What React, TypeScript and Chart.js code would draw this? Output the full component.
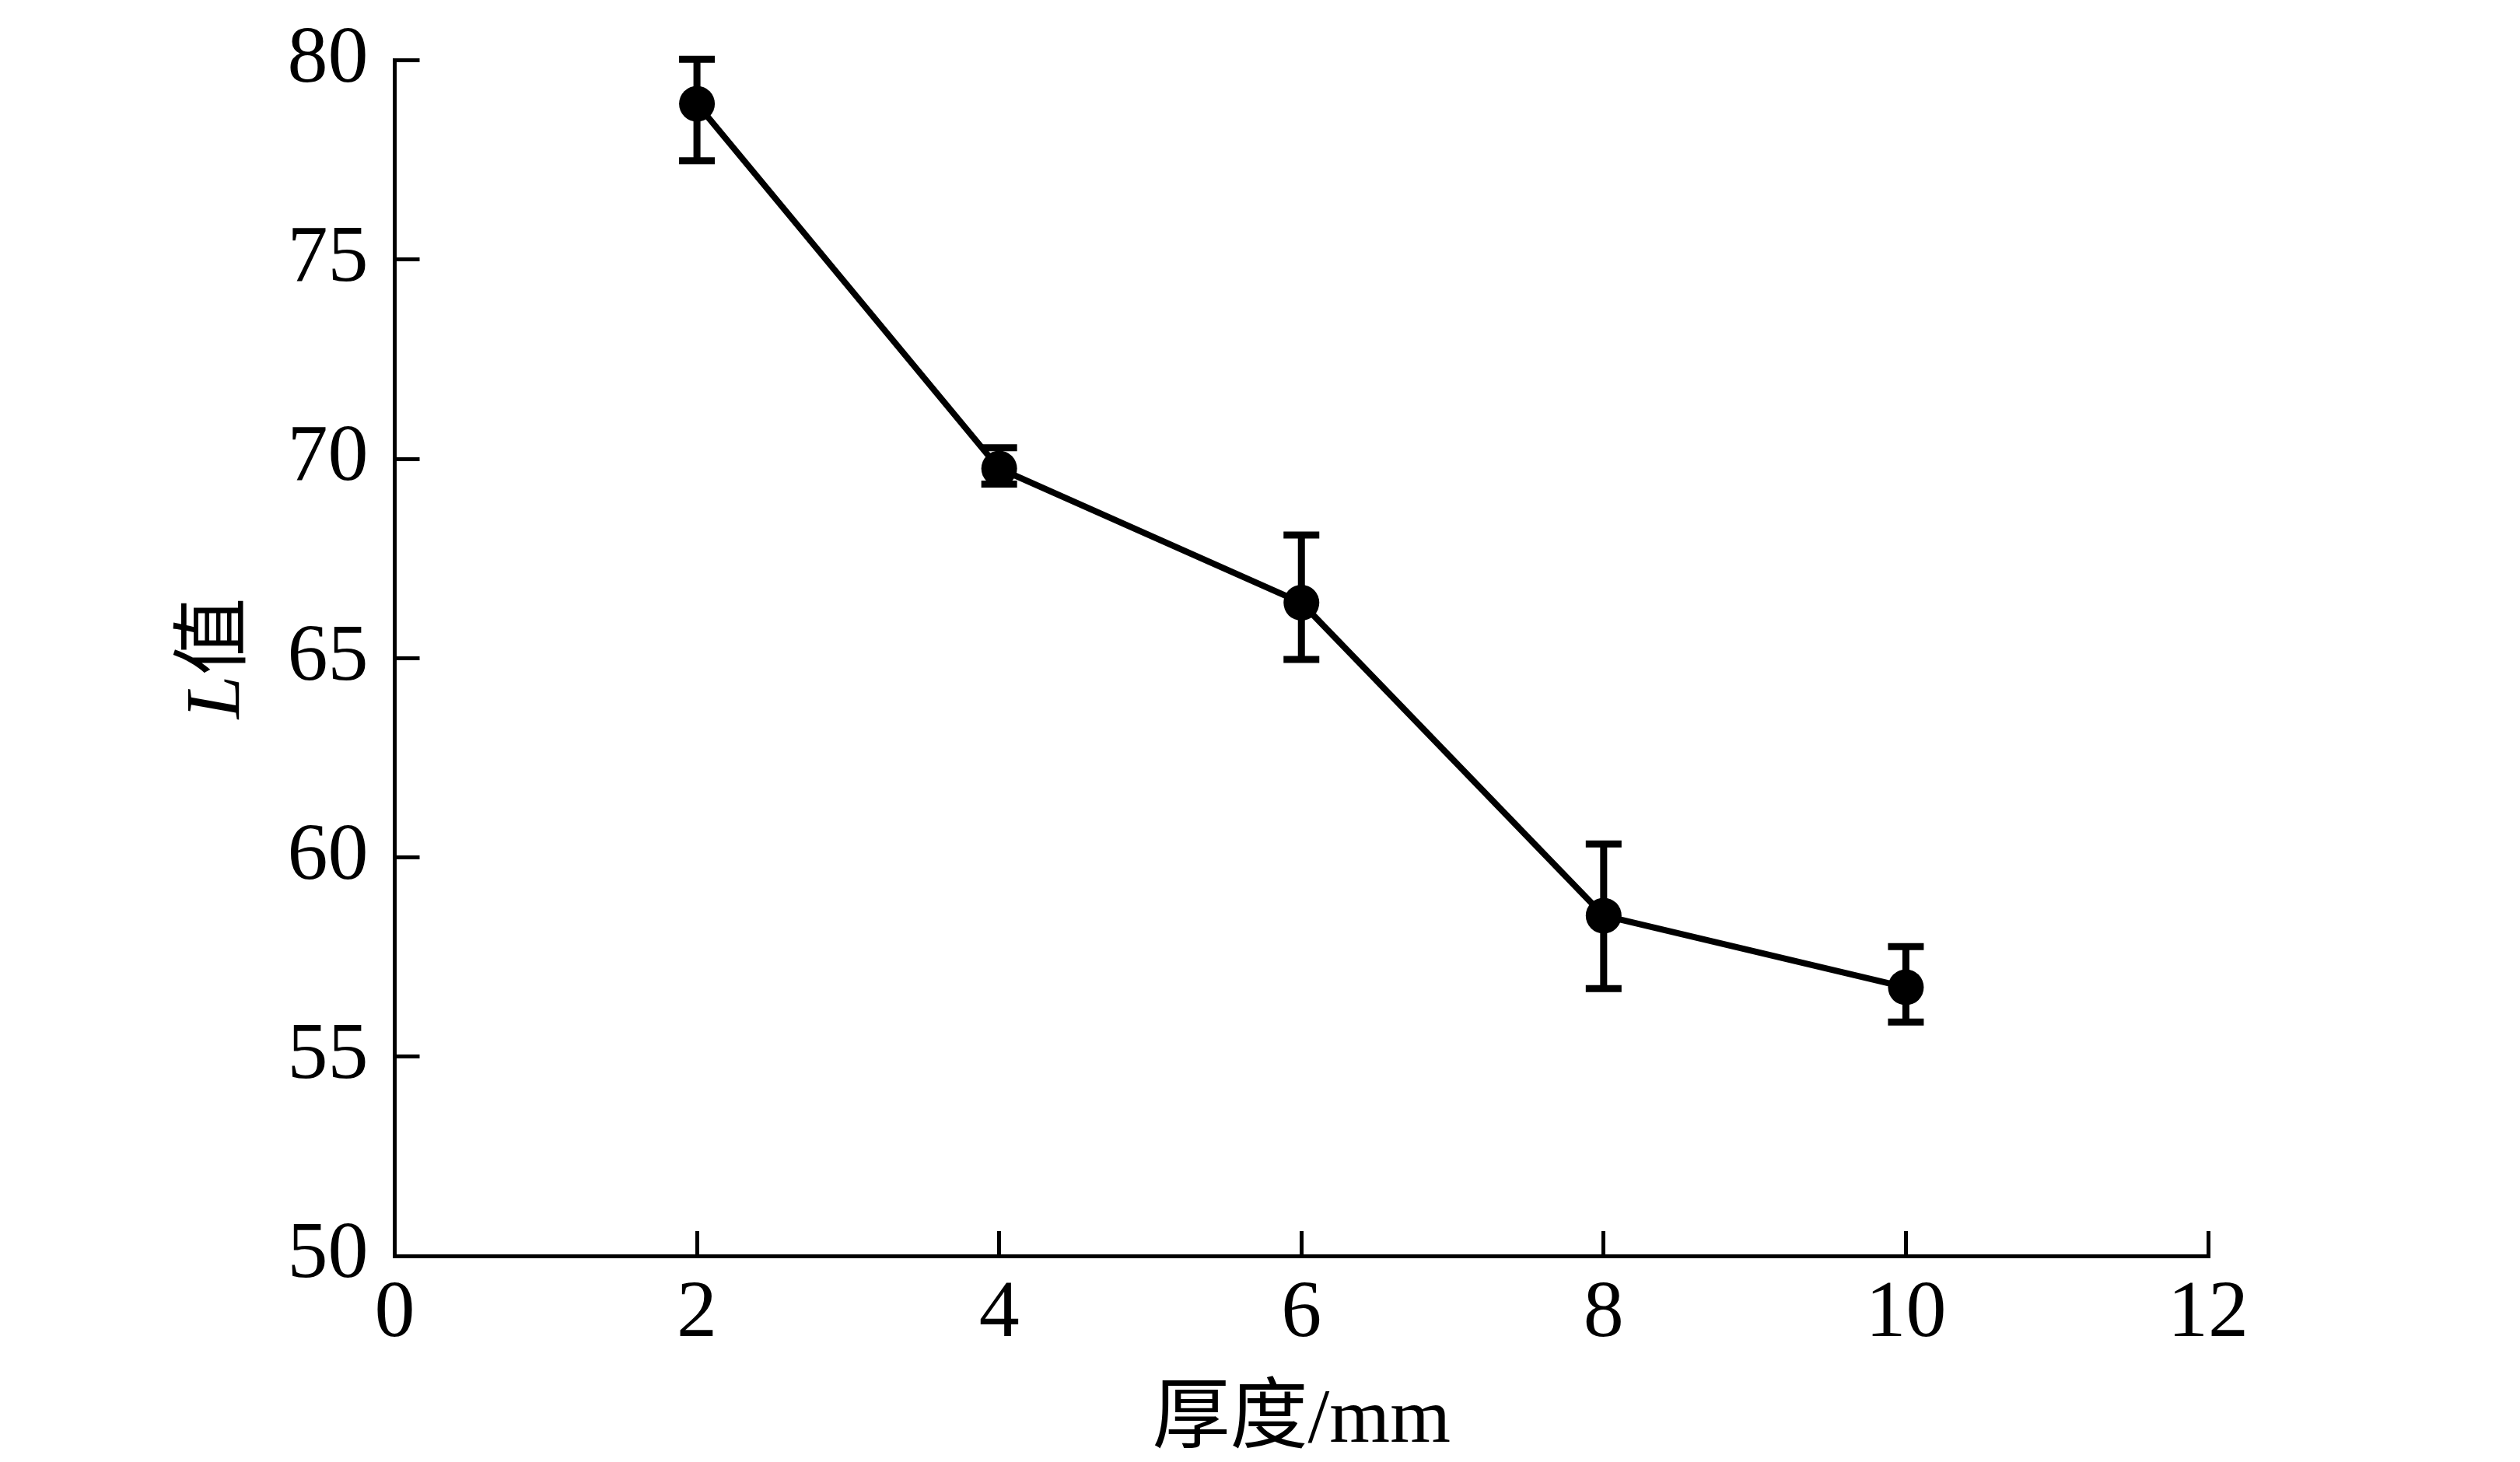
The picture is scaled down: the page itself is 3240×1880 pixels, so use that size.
import React, { useEffect, useRef } from "react";
import { Chart, registerables } from "chart.js";

Chart.register(...registerables);

const thickness = [2, 4, 6, 8, 10];
const lValues = [78.91, 69.76, 66.39, 58.54, 56.74];
const errPlus = [1.12, 0.52, 1.7, 1.8, 1.02];
const errMinus = [1.43, 0.39, 1.42, 1.83, 0.87];
const xTitle = "厚度/mm";
const yTitleItalic = "L";
const yTitleRest = "值";

const SERIF = '"Liberation Serif", "Noto Sans CJK SC", serif';

const errorBarPlugin = {
  id: "errorBars",
  beforeDatasetsDraw(chart: any) {
    const { ctx, scales } = chart;
    const xs = scales.x;
    const ys = scales.y;
    ctx.save();
    ctx.strokeStyle = "#000";
    ctx.lineWidth = 9;
    ctx.lineCap = "butt";
    thickness.forEach((t, i) => {
      const px = xs.getPixelForValue(t);
      const top = ys.getPixelForValue(lValues[i] + errPlus[i]);
      const bot = ys.getPixelForValue(lValues[i] - errMinus[i]);
      const hw = 23;
      ctx.beginPath();
      ctx.moveTo(px, top);
      ctx.lineTo(px, bot);
      ctx.moveTo(px - hw, top);
      ctx.lineTo(px + hw, top);
      ctx.moveTo(px - hw, bot);
      ctx.lineTo(px + hw, bot);
      ctx.stroke();
    });
    ctx.restore();
  },
};

const yTitlePlugin = {
  id: "yTitle",
  afterDraw(chart: any) {
    const { ctx, chartArea } = chart;
    const cy = (chartArea.top + chartArea.bottom) / 2;
    ctx.save();
    ctx.translate(307, cy);
    ctx.rotate(-Math.PI / 2);
    ctx.fillStyle = "#000";
    ctx.textBaseline = "alphabetic";
    ctx.textAlign = "left";
    const fItalic = 'italic 100px "Liberation Serif", serif';
    const fNormal = '100px "Liberation Serif", "Noto Sans CJK SC", sans-serif';
    ctx.font = fItalic;
    const wL = ctx.measureText(yTitleItalic).width;
    ctx.font = fNormal;
    const wV = ctx.measureText(yTitleRest).width;
    const start = -(wL + wV) / 2;
    ctx.font = fItalic;
    ctx.fillText(yTitleItalic, start, 0);
    ctx.font = fNormal;
    ctx.fillText(yTitleRest, start + wL, 0);
    ctx.restore();
  },
};

export default function App() {
  const canvasRef = useRef<HTMLCanvasElement | null>(null);

  useEffect(() => {
    const canvas = canvasRef.current;
    if (!canvas) return;
    const chart = new Chart(canvas, {
      type: "line",
      data: {
        datasets: [
          {
            data: thickness.map((t, i) => ({ x: t, y: lValues[i] })),
            borderColor: "#000",
            borderWidth: 8,
            backgroundColor: "#000",
            pointBackgroundColor: "#000",
            pointBorderColor: "#000",
            pointBorderWidth: 0,
            pointRadius: 23,
            tension: 0,
            clip: false as any,
          },
        ],
      },
      options: {
        animation: false,
        responsive: false,
        devicePixelRatio: 1,
        layout: { padding: { top: 77.7, right: 401, bottom: 0, left: 0 } },
        plugins: {
          legend: { display: false },
          tooltip: { enabled: false },
        },
        scales: {
          x: {
            type: "linear",
            min: 0,
            max: 12,
            ticks: {
              stepSize: 2,
              color: "#000",
              font: { family: SERIF, size: 104, lineHeight: 1.2 },
              padding: 45,
              maxRotation: 0,
              autoSkip: false,
            },
            grid: {
              drawOnChartArea: false,
              drawTicks: true,
              tickLength: -32,
              color: "#000",
              lineWidth: 5,
            },
            border: { display: true, color: "#000", width: 5 },
            title: {
              display: true,
              text: xTitle,
              color: "#000",
              font: { family: SERIF, size: 100, lineHeight: 1.0 },
              padding: { top: 0, bottom: 2 },
            },
            afterFit: (s: any) => {
              s.height = 265;
              s.paddingLeft = 0;
              s.paddingRight = 0;
              s.paddingTop = 0;
              s.paddingBottom = 0;
            },
          },
          y: {
            min: 50,
            max: 80,
            ticks: {
              stepSize: 5,
              color: "#000",
              font: { family: SERIF, size: 104, lineHeight: 1.2 },
              padding: 66,
            },
            grid: {
              drawOnChartArea: false,
              drawTicks: true,
              tickLength: -32,
              color: "#000",
              lineWidth: 5,
            },
            border: { display: true, color: "#000", width: 5 },
            afterFit: (s: any) => {
              s.width = 507.5;
              s.paddingLeft = 0;
              s.paddingRight = 0;
              s.paddingTop = 0;
              s.paddingBottom = 0;
            },
          },
        },
      },
      plugins: [errorBarPlugin, yTitlePlugin],
    });
    return () => chart.destroy();
  }, []);

  return (
    <div style={{ position: "absolute", left: 0, top: 0, width: 3240, height: 1880, background: "#fff" }}>
      <canvas ref={canvasRef} width={3240} height={1880} style={{ width: 3240, height: 1880, display: "block" }} />
    </div>
  );
}
